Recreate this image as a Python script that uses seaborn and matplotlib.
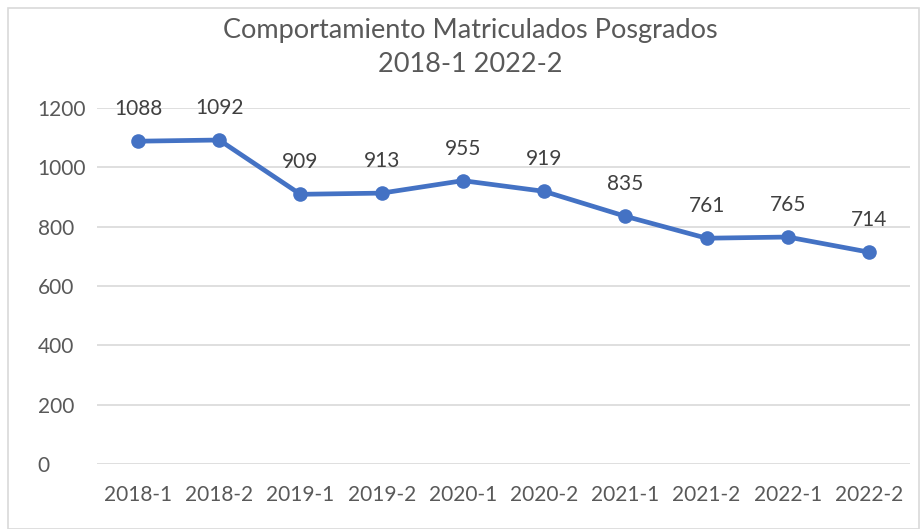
import matplotlib
matplotlib.use("Agg")
import matplotlib.pyplot as plt
import seaborn as sns
import pandas as pd
from matplotlib.patches import Rectangle

periods = ["2018-1", "2018-2", "2019-1", "2019-2", "2020-1", "2020-2", "2021-1", "2021-2", "2022-1", "2022-2"]
matriculados = [1088, 1092, 909, 913, 955, 919, 835, 761, 765, 714]
yticks = [0, 200, 400, 600, 800, 1000, 1200]
title = "Comportamiento Matriculados Posgrados\n2018-1 2022-2"

df = pd.DataFrame({"periodo": periods, "matriculados": matriculados})

sns.set_theme(style="white")
plt.rcParams["font.family"] = ["Lato", "DejaVu Sans"]

fig = plt.figure(figsize=(9.22, 5.29), dpi=100)
ax = fig.add_axes([0.1056, 0.1229, 0.881, 0.673])

color = "#4472C4"
sns.lineplot(data=df, x="periodo", y="matriculados", ax=ax, color=color,
             linewidth=3.4, marker="o", markersize=10.5, markeredgewidth=0,
             sort=False)

for i, v in enumerate(matriculados):
    ax.annotate(str(v), (i, v), xytext=(0, 23), textcoords="offset points",
                ha="center", va="center", fontsize=15, color="#404040")

ax.set_xlim(-0.5, len(periods) - 0.5)
ax.set_ylim(0, 1200)
ax.set_yticks(yticks)
ax.set_yticklabels([str(t) for t in yticks])
ax.set_xlabel("")
ax.set_ylabel("")
ax.grid(axis="y", color="#D9D9D9", linewidth=1.2)
ax.set_axisbelow(True)
for s in ax.spines.values():
    s.set_visible(False)
ax.tick_params(axis="both", length=0, labelsize=15, colors="#595959")
ax.tick_params(axis="x", pad=15)
ax.tick_params(axis="y", pad=43)
for lbl in ax.get_yticklabels():
    lbl.set_horizontalalignment("left")

fig.text(0.51, 0.910, title, ha="center", va="center", fontsize=19.5,
         color="#595959", linespacing=1.42)

fig.patches.append(Rectangle((8 / 922, 0.0), (919 - 8) / 922, 1 - 8 / 529,
                             transform=fig.transFigure, fill=False,
                             edgecolor="#D9D9D9", linewidth=1.2))

fig.savefig("out.png", dpi=100)
